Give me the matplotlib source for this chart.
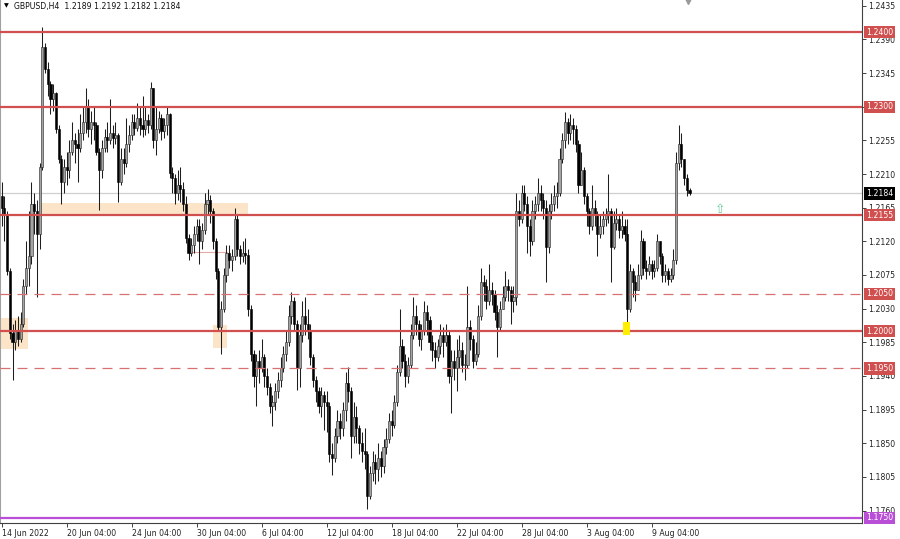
import numpy as np
import matplotlib.pyplot as plt
from matplotlib.patches import Rectangle
import matplotlib.transforms as mtransforms

# ---------------------------------------------------------------- data ---- #
# GBPUSD H4 candles (open = previous close)
first_open = 1.2180
closes = [
    1.2165, 1.2155, 1.2080, 1.1998, 1.1985, 1.2000, 1.1990, 1.2010, 1.2060, 1.2085,
    1.2100, 1.2170, 1.2160, 1.2130, 1.2220, 1.2380, 1.2350, 1.2330, 1.2310, 1.2318,
    1.2270, 1.2230, 1.2200, 1.2220, 1.2215, 1.2240, 1.2255, 1.2250, 1.2245, 1.2265,
    1.2280, 1.2300, 1.2270, 1.2280, 1.2275, 1.2240, 1.2215, 1.2245, 1.2260, 1.2255,
    1.2265, 1.2258, 1.2262, 1.2200, 1.2230, 1.2225, 1.2250, 1.2262, 1.2280, 1.2272,
    1.2285, 1.2275, 1.2270, 1.2282, 1.2275, 1.2325, 1.2255, 1.2270, 1.2285, 1.2268,
    1.2275, 1.2290, 1.2212, 1.2205, 1.2185, 1.2195, 1.2190, 1.2170, 1.2125, 1.2105,
    1.2115, 1.2130, 1.2140, 1.2120, 1.2135, 1.2170, 1.2175, 1.2160, 1.2120, 1.2080,
    1.2005, 1.2030, 1.2075, 1.2105, 1.2095, 1.2100, 1.2150, 1.2110, 1.2100, 1.2105,
    1.2102, 1.2030, 1.1970, 1.1940, 1.1960, 1.1950, 1.1965, 1.1940, 1.1925, 1.1900,
    1.1905, 1.1920, 1.1935, 1.1950, 1.1970, 1.1985, 1.2020, 1.2040, 1.2010, 1.1950,
    1.1995, 1.2020, 1.2010, 1.2000, 1.1965, 1.1935, 1.1920, 1.1900, 1.1915, 1.1905,
    1.1900, 1.1835, 1.1830, 1.1860, 1.1880, 1.1870, 1.1895, 1.1930, 1.1920, 1.1860,
    1.1885, 1.1870, 1.1850, 1.1840, 1.1835, 1.1780, 1.1810, 1.1825, 1.1815, 1.1830,
    1.1820, 1.1845, 1.1855, 1.1880, 1.1875, 1.1905, 1.1945, 1.1980, 1.1960, 1.1940,
    1.1955, 1.1995, 1.2020, 1.2010, 1.1990, 1.2000, 1.2025, 1.2015, 1.1985, 1.1975,
    1.1965, 1.1980, 1.1995, 1.1985, 1.1995, 1.1940, 1.1960, 1.1950, 1.1965, 1.1975,
    1.1955, 1.1955, 1.2005, 1.1990, 1.1960, 1.1970, 1.2020, 1.2065, 1.2060, 1.2040,
    1.2055, 1.2050, 1.2025, 1.2005, 1.2030, 1.2045, 1.2060, 1.2055, 1.2040, 1.2045,
    1.2160, 1.2150, 1.2185, 1.2170, 1.2140, 1.2120, 1.2160, 1.2170, 1.2185, 1.2175,
    1.2165, 1.2112, 1.2160, 1.2170, 1.2180, 1.2185, 1.2230, 1.2255, 1.2280, 1.2265,
    1.2275, 1.2270, 1.2250, 1.2195, 1.2215, 1.2180, 1.2160, 1.2140, 1.2165, 1.2155,
    1.2130, 1.2140, 1.2150, 1.2155, 1.2160, 1.2112, 1.2145, 1.2150, 1.2135, 1.2140,
    1.2130, 1.2030, 1.2080, 1.2065, 1.2055, 1.2075, 1.2120, 1.2085, 1.2080, 1.2090,
    1.2080, 1.2085, 1.2120, 1.2100, 1.2075, 1.2080, 1.2070, 1.2075, 1.2095, 1.2225,
    1.2250, 1.2230, 1.2205, 1.2189, 1.2184,
]
highs = [
    1.2200, 1.2180, 1.2160, 1.2085, 1.2010, 1.2015, 1.2020, 1.2025, 1.2070, 1.2120,
    1.2160, 1.2200, 1.2185, 1.2175, 1.2225, 1.2407, 1.2385, 1.2360, 1.2335, 1.2330,
    1.2320, 1.2275, 1.2235, 1.2230, 1.2240, 1.2255, 1.2280, 1.2265, 1.2270, 1.2290,
    1.2300, 1.2325, 1.2310, 1.2295, 1.2300, 1.2280, 1.2245, 1.2255, 1.2270, 1.2280,
    1.2310, 1.2275, 1.2280, 1.2265, 1.2245, 1.2245, 1.2285, 1.2275, 1.2290, 1.2290,
    1.2305, 1.2300, 1.2315, 1.2300, 1.2290, 1.2333, 1.2325, 1.2300, 1.2295, 1.2290,
    1.2285, 1.2300, 1.2292, 1.2220, 1.2210, 1.2215, 1.2220, 1.2200, 1.2180, 1.2130,
    1.2125, 1.2140, 1.2150, 1.2150, 1.2145, 1.2185, 1.2190, 1.2182, 1.2165, 1.2125,
    1.2085, 1.2040, 1.2085, 1.2115, 1.2115, 1.2110, 1.2165, 1.2155, 1.2115, 1.2120,
    1.2125, 1.2110, 1.2035, 1.1975, 1.1970, 1.1975, 1.1990, 1.1970, 1.1950, 1.1930,
    1.1915, 1.1930, 1.1945, 1.1965, 1.1980, 1.2000, 1.2035, 1.2052, 1.2045, 1.2015,
    1.2010, 1.2040, 1.2045, 1.2030, 1.2010, 1.1970, 1.1940, 1.1925, 1.1925, 1.1920,
    1.1920, 1.1905, 1.1850, 1.1870, 1.1895, 1.1890, 1.1905, 1.1945, 1.1952, 1.1925,
    1.1905, 1.1900, 1.1875, 1.1865, 1.1870, 1.1840, 1.1820, 1.1840, 1.1835, 1.1850,
    1.1840, 1.1855, 1.1870, 1.1890, 1.1895, 1.1915, 1.1955, 1.2030, 1.1990, 1.1970,
    1.1965, 1.2010, 1.2045, 1.2035, 1.2015, 1.2010, 1.2040, 1.2035, 1.2020, 1.1995,
    1.1985, 1.1990, 1.2010, 1.2005, 1.2010, 1.2000, 1.1975, 1.1975, 1.1990, 1.1995,
    1.1985, 1.1970, 1.2060, 1.2015, 1.1995, 1.1985, 1.2035, 1.2085, 1.2075, 1.2070,
    1.2090, 1.2065, 1.2055, 1.2035, 1.2040, 1.2060, 1.2080, 1.2070, 1.2060, 1.2060,
    1.2185, 1.2175, 1.2195, 1.2195, 1.2180, 1.2150, 1.2175, 1.2180, 1.2205, 1.2195,
    1.2185, 1.2175, 1.2170, 1.2185, 1.2195, 1.2200, 1.2245, 1.2265, 1.2293, 1.2285,
    1.2290, 1.2285, 1.2275, 1.2255, 1.2240, 1.2220, 1.2185, 1.2165, 1.2195, 1.2175,
    1.2160, 1.2155, 1.2160, 1.2165, 1.2210, 1.2165, 1.2160, 1.2165, 1.2155, 1.2160,
    1.2150, 1.2150, 1.2090, 1.2085, 1.2075, 1.2090, 1.2135, 1.2125, 1.2095, 1.2100,
    1.2095, 1.2095, 1.2130, 1.2120, 1.2105, 1.2090, 1.2085, 1.2085, 1.2110, 1.2240,
    1.2276, 1.2265, 1.2230, 1.2210, 1.2192,
]
lows = [
    1.2140, 1.2120, 1.2075, 1.1990, 1.1935, 1.1975, 1.1980, 1.1985, 1.2005, 1.2050,
    1.2060, 1.2090, 1.2130, 1.2045, 1.2110, 1.2215, 1.2345, 1.2315, 1.2290, 1.2295,
    1.2265, 1.2225, 1.2170, 1.2185, 1.2195, 1.2205, 1.2235, 1.2225, 1.2200, 1.2240,
    1.2255, 1.2265, 1.2260, 1.2250, 1.2255, 1.2235, 1.2162, 1.2205, 1.2240, 1.2240,
    1.2250, 1.2245, 1.2250, 1.2172, 1.2195, 1.2210, 1.2220, 1.2240, 1.2255, 1.2262,
    1.2268, 1.2262, 1.2260, 1.2262, 1.2265, 1.2270, 1.2245, 1.2235, 1.2265, 1.2255,
    1.2258, 1.2262, 1.2205, 1.2185, 1.2170, 1.2175, 1.2172, 1.2160, 1.2118, 1.2095,
    1.2100, 1.2105, 1.2120, 1.2090, 1.2110, 1.2130, 1.2155, 1.2145, 1.2110, 1.2070,
    1.2000, 1.1970, 1.2025, 1.2065, 1.2085, 1.2080, 1.2095, 1.2100, 1.2090, 1.2092,
    1.2090, 1.2020, 1.1960, 1.1925, 1.1900, 1.1930, 1.1945, 1.1925, 1.1915, 1.1890,
    1.1873, 1.1895, 1.1910, 1.1925, 1.1945, 1.1960, 1.1980, 1.2010, 1.2000, 1.1921,
    1.1925, 1.1985, 1.1995, 1.1990, 1.1955, 1.1925, 1.1905, 1.1890, 1.1885, 1.1868,
    1.1865, 1.1825, 1.1808, 1.1825, 1.1850, 1.1855, 1.1860, 1.1880, 1.1905, 1.1830,
    1.1850, 1.1850, 1.1835, 1.1825, 1.1815, 1.1762, 1.1775, 1.1800, 1.1795, 1.1800,
    1.1805, 1.1810, 1.1835, 1.1850, 1.1860, 1.1870, 1.1900, 1.1940, 1.1950, 1.1925,
    1.1930, 1.1950, 1.1990, 1.1995, 1.1980, 1.1975, 1.1995, 1.1995, 1.1975, 1.1960,
    1.1950, 1.1960, 1.1970, 1.1965, 1.1980, 1.1930, 1.1890, 1.1935, 1.1920, 1.1950,
    1.1945, 1.1935, 1.1950, 1.1975, 1.1950, 1.1955, 1.1965, 1.2015, 1.2040, 1.2030,
    1.2035, 1.2035, 1.2015, 1.1965, 1.2000, 1.2030, 1.2040, 1.2040, 1.2010, 1.2025,
    1.2035, 1.2140, 1.2145, 1.2160, 1.2105, 1.2100, 1.2115, 1.2150, 1.2160, 1.2160,
    1.2150, 1.2065, 1.2105, 1.2150, 1.2160, 1.2165, 1.2180, 1.2225, 1.2245, 1.2250,
    1.2255, 1.2250, 1.2240, 1.2185, 1.2195, 1.2170, 1.2140, 1.2130, 1.2135, 1.2140,
    1.2100, 1.2125, 1.2130, 1.2140, 1.2145, 1.2065, 1.2110, 1.2135, 1.2125, 1.2125,
    1.2120, 1.2005, 1.2025, 1.2045, 1.2040, 1.2055, 1.2070, 1.2075, 1.2070, 1.2075,
    1.2070, 1.2072, 1.2080, 1.2090, 1.2065, 1.2065, 1.2062, 1.2065, 1.2070, 1.2090,
    1.2215, 1.2220, 1.2195, 1.2180, 1.2182,
]

tick_bars = [0, 24, 48, 72, 96, 120, 144, 168, 192, 216, 240]
tick_texts = ['14 Jun 2022', '20 Jun 04:00', '24 Jun 04:00', '30 Jun 04:00',
              '6 Jul 04:00', '12 Jul 04:00', '18 Jul 04:00', '22 Jul 04:00',
              '28 Jul 04:00', '3 Aug 04:00', '9 Aug 04:00']
price_ticks = [1.2435, 1.2390, 1.2345, 1.2300, 1.2255, 1.2210, 1.2165, 1.2120,
               1.2075, 1.2030, 1.1985, 1.1940, 1.1895, 1.1850, 1.1805, 1.1760]

solid_levels = [1.2400, 1.2300, 1.2155, 1.2000]
dashed_levels = [1.2050, 1.1950]
support_level = 1.1750
last_price = 1.2184
header = 'GBPUSD,H4  1.2189 1.2192 1.2182 1.2184'

# zones: (first bar, last bar, low, high)
zones = [(14.1, 91.0, 1.2155, 1.2171),
         (-0.7, 9.7, 1.1976, 1.2017),
         (78.0, 83.2, 1.1977, 1.2008)]
marked_bar = (229.4, 232.0, 1.1995, 1.2012)

# ---------------------------------------------------------------- plot ---- #
red = '#d0504f'
purple = '#b84fd6'
fs = 5.6

fig = plt.figure(figsize=(9, 5.39), dpi=100)
ax = fig.add_axes([0, 16 / 539, 862 / 900, 523 / 539])

closes = np.array(closes)
opens = np.r_[first_open, closes[:-1]]
highs = np.maximum(np.array(highs), np.maximum(opens, closes))
lows = np.minimum(np.array(lows), np.minimum(opens, closes))
x = np.arange(len(closes))
up = closes >= opens
body_lo = np.minimum(opens, closes)
body_h = np.maximum(np.abs(closes - opens), 0.00008)

for x0, x1, lo, hi in zones:
    ax.add_patch(Rectangle((x0, lo), x1 - x0, hi - lo, color='#fbe4c8', lw=0, zorder=1))
x0, x1, lo, hi = marked_bar
ax.add_patch(Rectangle((x0, lo), x1 - x0, hi - lo, color='#ffee00', lw=0, zorder=6))

ax.axhline(last_price, color='#cfcfcf', lw=0.9, zorder=1)

ax.vlines(x, lows, highs, color='#1e1e1e', lw=0.75, zorder=3)
ax.bar(x[up], body_h[up], bottom=body_lo[up], width=0.78, color='#a4a4a4',
       edgecolor='#222222', linewidth=0.4, zorder=4)
ax.bar(x[~up], body_h[~up], bottom=body_lo[~up], width=0.78, color='black',
       edgecolor='black', linewidth=0.4, zorder=4)

for lvl in solid_levels:
    ax.axhline(lvl, color=red, lw=1.6, zorder=5)
for lvl in dashed_levels:
    ax.axhline(lvl, color='#d87070', lw=0.9, ls=(0, (8, 5.6)), zorder=5)
ax.axhline(support_level, color=purple, lw=1.6, zorder=5)

# small pink outline near the 30 Jun dip
ax.plot([68.8, 83.2], [1.2106, 1.2106], color='#e8a8a8', lw=0.8, zorder=2)
ax.plot([68.8, 68.8], [1.2106, 1.2122], color='#e8a8a8', lw=0.8, zorder=2)

ax.text(265.2, 1.2163, '\u21e7', color='#66cc99', fontsize=9, ha='center',
        va='center', zorder=6)

ax.set_xlim(-0.63, 317.7)
ax.set_ylim(1.17433, 1.24428)
ax.plot(253.4, 1.2441, marker='v', ms=5, color='#9a9a9a', clip_on=False, zorder=7)

# the 1.2300 scale label sits under its price tag, so leave it blank
ax.yaxis.tick_right()
ax.set_yticks(price_ticks)
ax.set_yticklabels(['' if p in solid_levels else '%.4f' % p for p in price_ticks])
ax.set_xticks(tick_bars)
ax.set_xticklabels(tick_texts)
plt.setp(ax.get_xticklabels(), ha='left')
ax.tick_params(axis='y', length=3, width=0.6, pad=1.5, labelsize=fs, colors='#222222')
ax.tick_params(axis='x', length=3, width=0.6, pad=1.5, labelsize=fs, colors='#222222')

ax.spines['top'].set_visible(False)
ax.spines['left'].set_color('#a0a0a0')
ax.spines['left'].set_linewidth(1.5)
for s in ('right', 'bottom'):
    ax.spines[s].set_color('#404040')
    ax.spines[s].set_linewidth(0.8)

# price tags on the right scale
trans = mtransforms.blended_transform_factory(ax.transAxes, ax.transData)
tags = [(l, red) for l in solid_levels + dashed_levels] + [(support_level, purple),
                                                           (last_price, 'black')]
for lvl, col in tags:
    ax.text(1 + 4 / 862, lvl, '%.4f' % lvl, transform=trans, fontsize=fs,
            color='white', ha='left', va='center', clip_on=False, zorder=10,
            bbox=dict(boxstyle='square,pad=0.2', fc=col, ec='none'))

fig.text(4 / 900, 1 - 6 / 539, '\u25bc', fontsize=4.5, va='center')
fig.text(14 / 900, 1 - 6 / 539, header, fontsize=fs, va='center', color='#111111')

fig.savefig('out.png', dpi=100)
